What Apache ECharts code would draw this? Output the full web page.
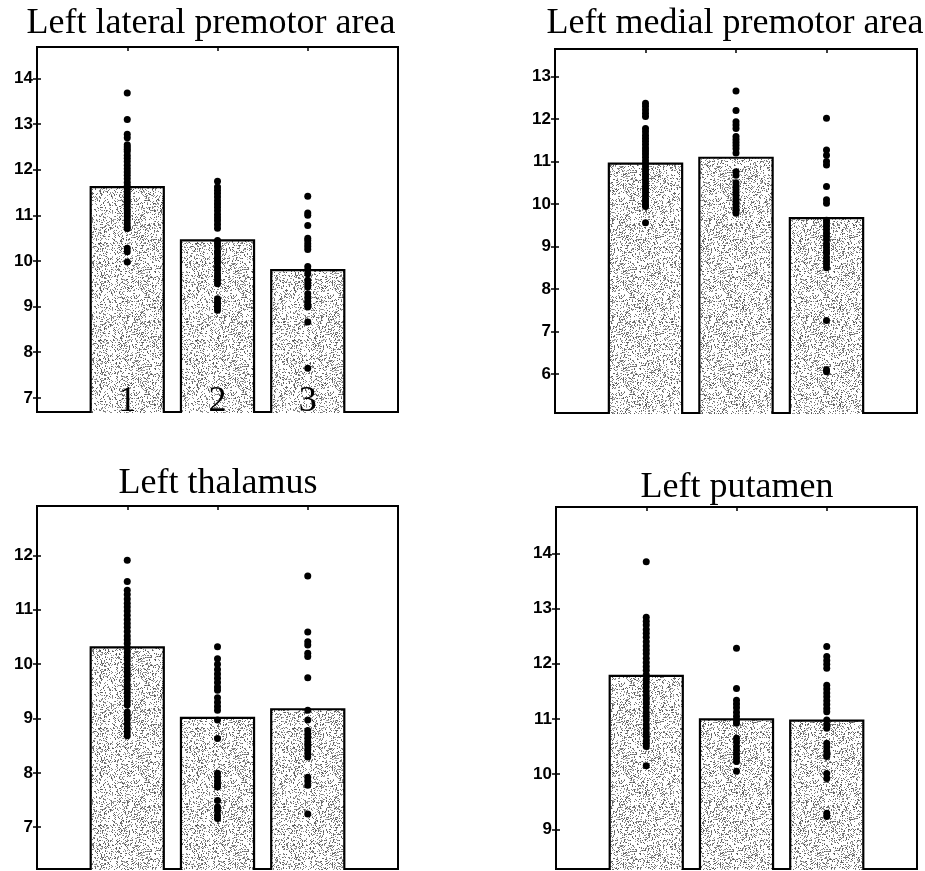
<!DOCTYPE html>
<html>
<head>
<meta charset="utf-8">
<script src="https://cdn.jsdelivr.net/npm/echarts@6/dist/echarts.min.js"></script>
<style>
  html, body { margin: 0; padding: 0; background: #fff; }
  #main { width: 925px; height: 871px; }
</style>
</head>
<body>
<div id="main"></div>
<script>
// group labels (only written inside the bars of the first panel)
const groups = ['1', '2', '3'];
const groupX = [1, 2, 3];

const titles = ['Left lateral premotor area', 'Left medial premotor area', 'Left thalamus', 'Left putamen'];

// bar heights (group means)
const latMeans = [11.62, 10.45, 9.80];
const medMeans = [10.95, 11.09, 9.67];
const thalMeans = [10.31, 9.01, 9.17];
const putMeans = [11.78, 10.99, 10.97];

// individual subjects, per group
const latG1 = [13.68, 13.1, 12.78, 12.7, 12.55, 12.5, 12.45, 12.4, 12.32, 12.25, 12.18, 12.1, 12.02, 11.95, 11.88, 11.8, 11.72, 11.65, 11.58, 11.5, 11.42, 11.35, 11.28, 11.2, 11.12, 11.05, 10.98, 10.9, 10.82, 10.75, 10.71, 10.28, 10.2, 9.98];
const latG2 = [11.75, 11.62, 11.55, 11.48, 11.4, 11.32, 11.25, 11.18, 11.1, 11.02, 10.95, 10.88, 10.8, 10.72, 10.45, 10.38, 10.31, 10.22, 10.16, 10.08, 10.02, 9.95, 9.87, 9.8, 9.72, 9.65, 9.58, 9.5, 9.17, 9.1, 9.04, 8.98, 8.92];
const latG3 = [11.42, 11.05, 11.0, 10.78, 10.5, 10.45, 10.38, 10.32, 10.25, 9.88, 9.8, 9.72, 9.58, 9.5, 9.43, 9.28, 9.2, 9.12, 9.05, 8.99, 8.66, 7.65];

const medG1 = [12.37, 12.3, 12.22, 12.14, 12.06, 11.78, 11.7, 11.62, 11.55, 11.48, 11.4, 11.32, 11.25, 11.18, 11.1, 11.02, 10.95, 10.88, 10.8, 10.72, 10.65, 10.58, 10.5, 10.42, 10.35, 10.28, 10.2, 10.12, 10.05, 9.98, 9.94, 9.56];
const medG2 = [12.66, 12.2, 11.94, 11.86, 11.78, 11.59, 11.52, 11.45, 11.38, 11.3, 11.2, 10.76, 10.68, 10.5, 10.42, 10.35, 10.28, 10.2, 10.12, 10.05, 9.98, 9.9, 9.84, 9.78];
const medG3 = [12.02, 11.27, 11.15, 11.0, 10.92, 10.41, 10.1, 10.02, 9.62, 9.56, 9.48, 9.4, 9.32, 9.24, 9.16, 9.06, 8.98, 8.9, 8.84, 8.74, 8.66, 8.58, 8.5, 7.26, 6.1, 6.05];

const thalG1 = [11.91, 11.52, 11.36, 11.28, 11.2, 11.12, 11.05, 10.98, 10.9, 10.82, 10.75, 10.68, 10.6, 10.52, 10.45, 10.38, 10.3, 10.22, 10.15, 10.08, 10.0, 9.92, 9.85, 9.78, 9.7, 9.62, 9.55, 9.48, 9.4, 9.32, 9.25, 9.12, 9.05, 8.98, 8.9, 8.82, 8.75, 8.68];
const thalG2 = [10.32, 10.1, 10.0, 9.9, 9.82, 9.74, 9.66, 9.58, 9.52, 9.38, 9.3, 9.22, 9.15, 8.97, 8.63, 7.99, 7.92, 7.85, 7.78, 7.74, 7.49, 7.37, 7.3, 7.22, 7.16];
const thalG3 = [11.62, 10.59, 10.41, 10.35, 10.2, 10.14, 9.75, 9.15, 8.97, 8.78, 8.71, 8.64, 8.57, 8.5, 8.43, 8.36, 8.29, 7.92, 7.85, 7.77, 7.24];

const putG1 = [13.85, 12.84, 12.77, 12.7, 12.62, 12.55, 12.48, 12.4, 12.32, 12.25, 12.18, 12.1, 12.02, 11.95, 11.88, 11.8, 11.72, 11.65, 11.58, 11.5, 11.42, 11.35, 11.28, 11.2, 11.12, 11.05, 10.98, 10.9, 10.82, 10.75, 10.68, 10.6, 10.55, 10.5, 10.15];
const putG2 = [12.28, 11.55, 11.34, 11.27, 11.2, 11.12, 11.05, 10.98, 10.92, 10.65, 10.58, 10.5, 10.43, 10.36, 10.29, 10.23, 10.05];
const putG3 = [12.31, 12.13, 12.06, 11.99, 11.92, 11.61, 11.54, 11.47, 11.4, 11.33, 11.26, 11.19, 11.13, 10.98, 10.9, 10.83, 10.56, 10.49, 10.42, 10.35, 10.32, 10.01, 9.92, 9.29, 9.23];

// y tick labels and y ranges of each panel
const latTicks = [7, 8, 9, 10, 11, 12, 13, 14];
const medTicks = [6, 7, 8, 9, 10, 11, 12, 13];
const thalTicks = [7, 8, 9, 10, 11, 12];
const putTicks = [9, 10, 11, 12, 13, 14];
const latRange = [6.69, 14.69];
const medRange = [5.08, 13.65];
const thalRange = [6.23, 12.91];
const putRange = [8.28, 14.84];

const panels = [
  { means: latMeans, pts: [latG1, latG2, latG3], ticks: latTicks, range: latRange },
  { means: medMeans, pts: [medG1, medG2, medG3], ticks: medTicks, range: medRange },
  { means: thalMeans, pts: [thalG1, thalG2, thalG3], ticks: thalTicks, range: thalRange },
  { means: putMeans, pts: [putG1, putG2, putG3], ticks: putTicks, range: putRange }
];

// panel boxes, title centre / top
const boxes = [
  { left: 37, top: 47, width: 361, height: 365, tx: 211, ty: 6 },
  { left: 555, top: 49, width: 362, height: 364, tx: 735, ty: 6 },
  { left: 37, top: 506, width: 361, height: 363, tx: 218, ty: 466 },
  { left: 556, top: 507, width: 361, height: 362, tx: 737, ty: 470 }
];

// stippled fill, like the scanned print
function stipple() {
  const c = document.createElement('canvas');
  c.width = 97; c.height = 97;
  const g = c.getContext('2d');
  g.fillStyle = '#fff';
  g.fillRect(0, 0, c.width, c.height);
  let s = 20240601;
  const rnd = () => { s = (s * 1103515245 + 12345) % 2147483648; return s / 2147483648; };
  for (let y = 0; y < c.height; y++) {
    for (let x = 0; x < c.width; x++) {
      if (rnd() < 0.25) {
        const v = Math.floor(80 + rnd() * 90);
        g.fillStyle = 'rgb(' + v + ',' + v + ',' + v + ')';
        g.fillRect(x, y, 1, 1);
      }
    }
  }
  return c;
}
const tex = { image: stipple(), repeat: 'repeat' };

const chart = echarts.init(document.getElementById('main'));

const grid = [], xAxis = [], yAxis = [], series = [], title = [];

panels.forEach((p, i) => {
  const b = boxes[i];
  grid.push({ left: b.left, top: b.top, width: b.width, height: b.height,
    show: true, borderColor: '#000', borderWidth: 2, backgroundColor: '#fff' });
  title.push({ text: titles[i], left: b.tx, top: b.ty, textAlign: 'center', padding: 0,
    textStyle: { fontFamily: 'Liberation Serif', fontSize: 36, fontWeight: 'normal', color: '#000' } });

  xAxis.push({ gridIndex: i, type: 'value', min: 0, max: 4, show: false });
  xAxis.push({ gridIndex: i, type: 'value', min: 0, max: 4, position: 'top',
    axisLine: { show: false }, splitLine: { show: false }, axisLabel: { show: false },
    axisTick: { inside: true, length: 4, customValues: groupX, lineStyle: { color: '#000', width: 1.5 } } });

  const yBase = { gridIndex: i, type: 'value', min: p.range[0], max: p.range[1],
    axisLine: { show: false }, splitLine: { show: false },
    axisTick: { inside: true, length: 4, customValues: p.ticks, lineStyle: { color: '#000', width: 1.5 } } };
  yAxis.push(Object.assign({}, yBase, { position: 'left',
    axisLabel: { customValues: p.ticks, margin: 4, color: '#000', fontFamily: 'Liberation Sans',
      fontWeight: 'bold', fontSize: 17 } }));
  yAxis.push(Object.assign({}, yBase, { position: 'right', axisLabel: { show: false } }));

  const ymin = p.range[0];
  series.push({
    type: 'custom', xAxisIndex: 2 * i, yAxisIndex: 2 * i, z: 2,
    data: p.means.map((m, k) => [groupX[k], m, k]),
    renderItem: (params, api) => {
      const x = api.value(0), v = api.value(1), k = api.value(2);
      const tl = api.coord([x - 0.405, v]);
      const br = api.coord([x + 0.405, ymin]);
      const kids = [
        { type: 'rect', shape: { x: tl[0], y: tl[1], width: br[0] - tl[0], height: br[1] - tl[1] + 1 },
          style: { fill: tex } },
        { type: 'polyline', shape: { points: [[tl[0], br[1] + 1], [tl[0], tl[1]], [br[0], tl[1]], [br[0], br[1] + 1]] },
          style: { stroke: '#000', lineWidth: 2.2, fill: null } }
      ];
      if (i === 0) {
        const c = api.coord([x, ymin]);
        kids.push({ type: 'text', x: c[0], y: c[1] + 8,
          style: { text: groups[k], fill: '#000', font: '36px "Liberation Serif"', align: 'center', verticalAlign: 'bottom' } });
      }
      return { type: 'group', children: kids };
    }
  });

  const pts = [];
  p.pts.forEach((arr, k) => arr.forEach(v => pts.push([groupX[k], v])));
  series.push({
    type: 'scatter', xAxisIndex: 2 * i, yAxisIndex: 2 * i, z: 3,
    symbol: 'circle', symbolSize: 7, itemStyle: { color: '#000', opacity: 1 },
    data: pts
  });
});

chart.setOption({
  backgroundColor: '#fff',
  animation: false,
  title: title,
  grid: grid,
  xAxis: xAxis,
  yAxis: yAxis,
  series: series
});
</script>
</body>
</html>
